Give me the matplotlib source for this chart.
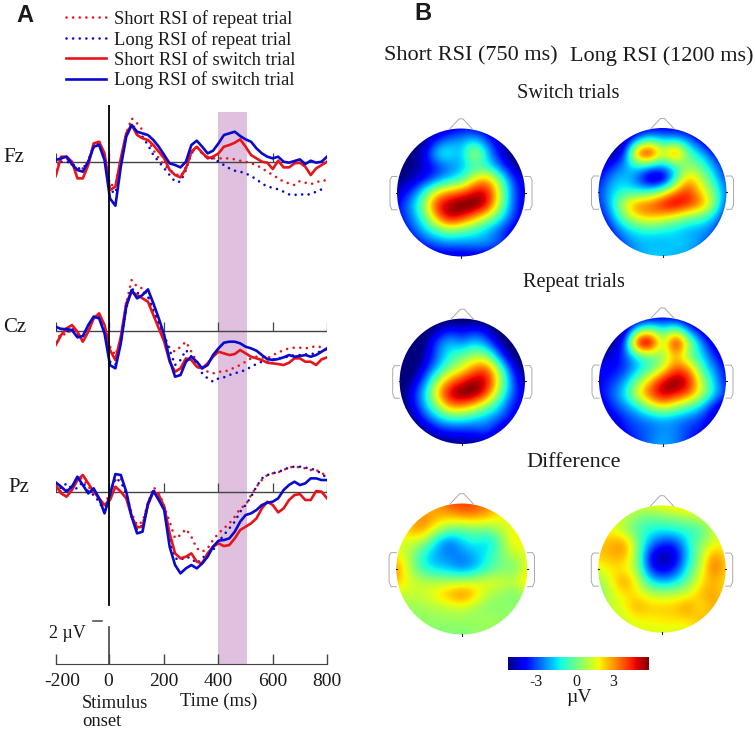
import numpy as np
import matplotlib
matplotlib.use("Agg")
import matplotlib.pyplot as plt
from matplotlib.cm import ScalarMappable
from matplotlib.colors import Normalize
from matplotlib.patches import Circle
from matplotlib.transforms import ScaledTranslation

W, H = 755, 729
SERIF = ["Liberation Serif", "DejaVu Serif"]
RED = "#E8141C"
BLUE = "#0A0ACD"
AXIS = "#444444"

# ERP readings every 20 ms, in 1/60 uV, negative plotted up
READINGS_PER_UV = 60
times = list(range(-200, 801, 20))

fz_short_repeat = [25, -10, -10, 10, 25, 20, -5, -50, -60, -20, 70, 70, 0, -85, -130, -115, -95, -65, -35, -10, 10, 25, 35, 45, 15, -25, -45, -25, -15, -10, -10, -10, -10, -7, -3, 0, 5, 10, 20, 30, 40, 50, 60, 65, 70, 58, 63, 67, 63, 55, 57]
fz_long_repeat = [-10, 0, 0, 5, 20, 20, 0, -45, -55, -15, 85, 95, 10, -80, -115, -90, -75, -50, -20, 0, 20, 40, 60, 60, 25, -25, -43, -25, -10, -10, 0, 10, 20, 27, 30, 35, 43, 53, 65, 75, 78, 83, 90, 98, 100, 97, 100, 97, 90, 83, 82]
fz_short_switch = [43, -15, -15, 0, 50, 50, 10, -55, -60, -25, 85, 75, -10, -85, -110, -80, -70, -65, -50, -30, -10, 25, 40, 47, 20, -30, -45, -27, -10, -15, -25, -45, -50, -57, -67, -45, -20, -10, 0, 3, 22, -3, 17, 17, 5, 3, 15, 40, 20, 10, 0]
fz_long_switch = [-5, -10, -15, 7, 25, 30, 0, -45, -50, -5, 110, 132, 15, -75, -110, -90, -85, -80, -65, -45, -20, 5, 10, 17, 0, -50, -63, -45, -25, -33, -55, -80, -85, -90, -77, -67, -60, -40, -25, -15, -10, -15, 0, 3, -2, -7, 7, -3, 3, 0, -15]

cz_short_repeat = [33, 8, 13, -7, 13, 28, 3, -42, -47, -12, 48, 73, 28, -82, -152, -132, -127, -107, -57, -17, 23, 53, 63, 48, 33, 63, 93, 108, 123, 128, 123, 123, 118, 110, 103, 93, 83, 78, 80, 83, 73, 66, 58, 53, 51, 51, 53, 50, 46, 50, 58]
cz_long_repeat = [-2, -7, 3, -7, 8, 18, -12, -37, -42, 3, 93, 103, 33, -67, -127, -112, -117, -102, -62, -22, 13, 58, 103, 88, 58, 78, 103, 128, 143, 153, 143, 140, 133, 128, 123, 118, 108, 100, 93, 93, 86, 83, 80, 78, 73, 73, 71, 70, 68, 60, 56]
cz_short_switch = [43, 13, -7, -17, 3, 33, 3, -37, -52, -17, 58, 88, 18, -82, -117, -107, -97, -87, -47, -7, 33, 93, 123, 113, 83, 88, 108, 113, 98, 78, 63, 68, 73, 70, 58, 68, 78, 83, 88, 96, 98, 100, 103, 96, 83, 83, 93, 93, 103, 86, 80]
cz_long_switch = [-12, -5, -5, -2, 20, 16, -17, -42, -37, 8, 103, 113, 38, -72, -122, -97, -107, -124, -82, -37, 13, 88, 138, 133, 93, 78, 93, 113, 103, 73, 53, 36, 33, 33, 38, 48, 53, 60, 73, 85, 88, 85, 80, 73, 78, 76, 73, 78, 73, 63, 53]

pz_short_repeat = [-15, 0, -5, -15, -40, -40, -15, 0, 25, 45, 0, -35, -40, 10, 65, 100, 90, 35, -13, 0, 45, 90, 140, 130, 112, 135, 170, 180, 170, 145, 125, 110, 95, 75, 50, 40, 10, -15, -35, -50, -55, -58, -65, -73, -75, -73, -70, -65, -65, -57, -45]
pz_long_repeat = [-25, -10, -25, -10, -10, -30, 0, 10, 30, 60, 5, -40, -30, 5, 75, 115, 100, 40, -5, 15, 45, 140, 200, 205, 195, 200, 215, 200, 185, 175, 150, 130, 110, 90, 60, 40, 15, -15, -40, -50, -55, -60, -65, -73, -75, -75, -72, -70, -63, -55, -40]
pz_short_switch = [-20, 5, 15, -5, -35, -50, -25, 0, 20, 40, 25, -15, 0, 20, 75, 107, 105, 40, 0, 10, 45, 125, 185, 200, 195, 185, 210, 215, 185, 165, 155, 163, 160, 140, 115, 105, 95, 80, 50, 30, 40, 62, 50, 25, 10, 7, 25, 25, -2, 0, 20]
pz_long_switch = [-28, -15, 0, -15, -45, -20, 5, -10, 20, 65, 10, -53, -50, 0, 75, 125, 120, 35, -2, 25, 55, 165, 220, 245, 230, 220, 230, 215, 195, 165, 147, 145, 140, 120, 90, 70, 65, 55, 40, 33, 30, 20, -5, -20, -30, -20, -25, -40, -40, -35, -35]

channels = ["Fz", "Cz", "Pz"]
channel_curves = [
    [fz_short_repeat, fz_long_repeat, fz_short_switch, fz_long_switch],
    [cz_short_repeat, cz_long_repeat, cz_short_switch, cz_long_switch],
    [pz_short_repeat, pz_long_repeat, pz_short_switch, pz_long_switch],
]
curve_labels = ["Short RSI of repeat trial", "Long RSI of repeat trial",
                "Short RSI of switch trial", "Long RSI of switch trial"]
xtick_values = [-200, -5, 200, 400, 600, 800]
xtick_labels = ["-200", "0", "200", "400", "600", "800"]

# scalp maps: 11x11 samples in uV, rows front to back, columns left to right
switch_short = [
    [-5, -5, -5, -4.5, -4, -3.5, -3.5, -4, -5, -5, -5],
    [-5, -5, -4.5, -3, -2, -1.8, -1.2, -2.5, -4, -5, -5],
    [-5, -4.5, -4, -1.2, -0.8, -2, 1.5, -1.5, -3.5, -4.8, -5],
    [-4.8, -4.5, -4, -3.2, -2.5, -1.8, -1, -1, -2.5, -4, -4.8],
    [-4.5, -4.2, -3.5, -2.5, -1.5, -1, 1.5, 2.5, 0, -2.8, -4],
    [-4, -3, -1, 1.5, 2.5, 3, 4, 4, 1, -2.5, -3.8],
    [-3.5, -2, 0, 3.5, 4.5, 5, 5, 4, 0.5, -2.5, -4],
    [-3.5, -2.5, -0.8, 2, 4.2, 3.5, 2, 0.5, -1, -2.8, -4],
    [-4, -3, -1.8, -0.8, 0, -0.5, -1, -1.8, -2.8, -3.8, -4.5],
    [-5, -4, -3, -2.5, -2.2, -2.2, -2, -2, -2.5, -3.5, -5],
    [-5, -5, -4.5, -4, -4, -4, -4, -4, -4.5, -5, -5],
]
switch_long = [
    [-5, -5, -5, -4.5, -4, -3.8, -3.8, -4, -5, -5, -5],
    [-5, -5, -4.5, -2, -0.5, -1.5, -1.5, -2, -3.5, -5, -5],
    [-5, -4.5, -3.5, 3.5, 5, 1, 4, -0.5, -1.5, -3.2, -4],
    [-4, -3.2, -2, -1, -1.5, -2, -1, 0.2, -0.3, -2, -3.5],
    [-3.5, -2, -1.5, -2.5, -5, -5, -1.2, 2.2, 0.8, -1, -3],
    [-3, -1.5, -1, -1.2, -0.8, 0.5, 2.5, 3.5, 1.5, 0, -2.5],
    [-3.2, -1.5, 1.2, 2.8, 3, 4, 4.5, 3.5, 2.8, 0.5, -3],
    [-3.8, -2.2, 0, 1.5, 2, 1.5, 0.8, 0, -0.5, -1.5, -3.5],
    [-4.5, -3, -1.8, -1.2, -1, -1.2, -1.5, -2, -2, -2.5, -4],
    [-5, -3.8, -2.5, -1.8, -1.8, -1.8, -1.5, -1.5, -2, -3, -5],
    [-5, -5, -3, -2, -1.5, -1.5, -1.8, -2, -3, -5, -5],
]
repeat_short = [
    [-5, -5, -5, -5, -5, -5, -5, -5, -5, -5, -5],
    [-5, -5, -5, -4, -3, -3.5, -3, -3.5, -5, -5, -5],
    [-5, -5, -4.5, -2.5, -1.5, -2.3, -1.3, -2.2, -4, -5, -5],
    [-5, -5, -4.2, -2.5, -1, -0.2, 0.5, 0.3, -2.5, -4.5, -5],
    [-5, -5, -3.5, -1.8, 0, 1, 2.5, 3.2, 0, -3.2, -4.8],
    [-5, -4.2, -2.5, 0.5, 2.5, 3.5, 4.5, 4, 1, -2.5, -4.2],
    [-5, -3.5, -1.5, 1.8, 4.2, 5, 4.8, 3.2, 0, -2.5, -3.8],
    [-4.8, -3.8, -1.8, 0.2, 2.5, 2.5, 1.5, 0, -1.5, -3.2, -4],
    [-5, -4.5, -3, -1.8, -1, -1, -1.5, -2, -2.5, -3.5, -4.5],
    [-5, -5, -4.5, -3.5, -3.2, -3.2, -3, -2.5, -4, -5, -5],
    [-5, -5, -5, -4.8, -4.5, -4.5, -4.5, -4.5, -5, -5, -5],
]
repeat_long = [
    [-5, -5, -5, -4.5, -4, -3.8, -4, -4.5, -5, -5, -5],
    [-5, -5, -4.5, -0.5, 0.5, -1, 0.5, -2.2, -3.8, -5, -5],
    [-5, -4.5, -3, 5, 5.5, 0, 5, 0.8, -2, -4, -5],
    [-4.2, -3.8, -2.8, -1, -0.3, 0, 2, -0.2, -1.3, -3, -4.2],
    [-3.5, -3.5, -3, -1.8, -0.8, 0.8, 3, 2.5, -0.5, -2.2, -3.5],
    [-3.5, -3, -2, 0, 2, 4, 4.8, 4, 0.8, -1.5, -3.5],
    [-3.5, -2.5, -1.2, 1.5, 3.2, 4.5, 3.8, 3, 1, -1.2, -3],
    [-4, -3, -2.2, -1.2, 0.5, 1.5, 0.5, -0.5, -1.5, -3.5, -4.5],
    [-4.5, -3.8, -3, -2.5, -2.2, -2, -2.2, -2.5, -3, -4, -4.2],
    [-5, -4.5, -3.2, -2.8, -2.5, -2, -2.2, -3, -3.2, -4, -5],
    [-5, -5, -4, -3, -2.2, -1.8, -2.2, -3, -4, -5, -5],
]
diff_short = [
    [1.5, 1.5, 1.5, 2, 3, 3.2, 3, 2.5, 1.5, 1.5, 1.5],
    [1.5, 1.8, 2.5, 2.2, 2, 2.5, 2.5, 2, 1.3, 1.2, 1.2],
    [1.5, 2, 2.5, 1, 0, -0.3, 0, 0, 0.8, 1.3, 1.2],
    [0.8, 1, 0.5, -1.5, -2.8, -1.5, -1, -1.8, 0, 1.8, 1],
    [1.5, 0.5, -1.2, -2, -2.2, -2.3, -1.8, -1, 0, 0.8, 1],
    [2.5, 0.6, -1, -1.5, -1.8, -2.5, -1.8, -0.8, 0, -0.3, 1.5],
    [2, 1, 0.8, 0.6, 0.6, 0.8, 1, 1.3, 1, 0.8, 2],
    [0.8, 0.8, 0.8, 1.5, 2.2, 2.8, 1.8, 0.5, 0.2, -0.2, 0.5],
    [0.2, 0.3, 0.4, 0.5, 0.6, 0.8, 0.3, 0, 0.2, 0.3, 0.3],
    [0.2, 0.2, 0.2, 0.3, 0.3, 0.3, 0.3, 0.6, 0.3, 0.2, 0.2],
    [0, 0, 0, 0, 0, 0, 0.2, 0.2, 0, 0, 0],
]
diff_long = [
    [1.5, 1.5, 1.2, 1.2, 1.3, 1.5, 1.8, 2, 1.5, 1.3, 1.3],
    [1.3, 1.2, 0.8, 0, -0.3, 0, 0.2, 0.4, 1, 1.2, 1.3],
    [1.3, 1.3, 0.4, -0.5, -1, -1.2, -1, -0.8, -0.8, 0.8, 1.3],
    [1.8, 2, 2.5, 0.2, -2, -3, -3, -1.2, 0.2, 1, 1.2],
    [1.8, 2, 2.2, 0.3, -3.5, -4.5, -4, -1.5, 0.5, 2.5, 1.5],
    [1, 1.5, 1.3, 0.5, -3.2, -4, -3.2, -1, 0.8, 3, 1.5],
    [0.2, 1.2, 2.5, 1.2, -1.2, -2, -1.5, -0.2, 1.5, 2, 1.5],
    [-0.2, 0.8, 1.5, 1.5, 0.8, 0.7, 0.8, 1, 2, 2.2, 1.5],
    [0.5, 0.8, 1.2, 2.2, 1.8, 1.8, 1.8, 2.5, 1.2, 2.2, 1.8],
    [0.8, 0.8, 0.8, 1.3, 1.3, 1.5, 1.5, 1.5, 2, 2, 1.8],
    [0.8, 0.8, 1, 1, 1, 1, 1, 1, 1.5, 1.5, 1.5],
]
map_limit = 5
colorbar_ticks = [-3, 0, 3]


def pixel_box(left, top, right, bottom):
    return [left / W, 1 - bottom / H, (right - left) / W, (bottom - top) / H]


def label(x, y, text, size=13, ha="left", **kw):
    kw.setdefault("family", SERIF)
    fig.text(x / W, 1 - y / H, text, fontsize=size, ha=ha, va="center", color="#1a1a1a", **kw)


def shift_label(tick_label, px):
    tick_label.set_transform(tick_label.get_transform() + ScaledTranslation(px / 100, 0, fig.dpi_scale_trans))


def topomap(cx, cy, r, grid):
    span = 1.3
    ax = fig.add_axes(pixel_box(cx - span * r, cy - span * r, cx + span * r, cy + span * r))
    ax.set_xlim(-span, span)
    ax.set_ylim(-span, span)
    ax.axis("off")
    # small samples blur under bicubic, so the peaks get a slightly tighter colour range
    limit = 0.9 * map_limit
    im = ax.imshow(grid, extent=[-1.1, 1.1, -1.1, 1.1], origin="upper", cmap="jet",
                   vmin=-limit, vmax=limit, interpolation="bicubic", aspect="equal")
    im.set_clip_path(Circle((0, 0), 1, transform=ax.transData))
    ax.set_xlim(-span, span)
    ax.set_ylim(-span, span)
    # nose and ears
    ax.plot([-0.18, -0.03, 0.03, 0.18], [0.99, 1.15, 1.15, 0.99], color="#aaaaaa", lw=0.7)
    for side in (-1, 1):
        ax.plot([side * 1.0, side * 1.08, side * 1.11, side * 1.11, side * 1.08, side * 1.0],
                [0.25, 0.25, 0.2, -0.2, -0.27, -0.27], color="#aaaaaa", lw=0.7)
        ax.plot([side * 0.99, side * 1.01], [0, 0], color="#222222", lw=0.8)
    ax.plot([0, 0], [-1.02, -0.99], color="#222222", lw=0.8)


fig = plt.figure(figsize=(W / 100, H / 100), dpi=100)

# waveform panel, 20 px per uV, Fz baseline at y = 0
baselines = [0, 8.45, 16.5]
axis_y = 25.1
ax = fig.add_axes(pixel_box(55.7, 105, 327, 663.7))
ax.set_xlim(-200, 800)
ax.set_ylim(axis_y, -2.835)
for s in ("left", "right", "top"):
    ax.spines[s].set_visible(False)
ax.spines["bottom"].set_color(AXIS)
ax.patch.set_alpha(0)
ax.set_yticks([])
ax.set_xticks(xtick_values)
ax.set_xticklabels(xtick_labels, family=SERIF, fontsize=14, color="#1a1a1a")
ax.tick_params(axis="x", direction="in", length=7, width=1, color=AXIS, pad=7)
ax.spines["bottom"].set_zorder(1)
shift_label(ax.get_xticklabels()[0], 7)

ax.fill_betweenx([-2.47, axis_y], 400, 505, color="#DFC0DF", lw=0, zorder=0)

handles = []
for base, curves in zip(baselines, channel_curves):
    ax.plot([-200, 800], [base, base], color=AXIS, lw=1, zorder=1)
    ax.vlines(xtick_values, base - 0.45, base, color=AXIS, lw=0.9, zorder=1)
    lines = []
    for i, values in enumerate(curves):
        y = base + np.array(values) / READINGS_PER_UV
        color = RED if i % 2 == 0 else BLUE
        if i < 2:
            line, = ax.plot(times, y, color=color, lw=1.9, ls=(0, (0.01, 2.5)),
                            dash_capstyle="round", zorder=2 + i, label=curve_labels[i])
        else:
            line, = ax.plot(times, y, color=color, lw=1.9, solid_joinstyle="round",
                            zorder=2 + i, label=curve_labels[i])
        lines.append(line)
    handles = lines

ax.plot([-5, -5], [-2.835, 22.15], color="black", lw=1.3, zorder=7)
ax.plot([-5, -5], [23.25, axis_y], color=AXIS, lw=1.2, zorder=7)
ax.plot([-62, -28], [22.95, 22.95], color=AXIS, lw=1.1)

fig.legend(handles=handles, loc="upper left", bbox_to_anchor=(66 / W, 1 - 10 / H), frameon=False,
           prop={"family": SERIF, "size": 13.3}, labelspacing=0.16, handlelength=2.17,
           handletextpad=0.43, borderpad=0, borderaxespad=0, labelcolor="#1a1a1a")

label(16, 15, "A", size=17, family="Liberation Sans", fontweight="bold")
label(414, 14, "B", size=17, family="Liberation Sans", fontweight="bold")
for name, x, y in zip(channels, [3, 3, 8], [157, 328, 487]):
    label(x, y, name, size=15)
label(49, 633, "2 \u00b5V", size=13)
label(82, 703, "Stimulus", size=13.4)
label(82, 721, "onset", size=13.4)
label(180, 701, "Time (ms)", size=13.4)

label(384.5, 56, "Short RSI (750 ms)", size=16)
label(570, 56, "Long RSI (1200 ms)", size=16)
label(568, 93, "Switch trials", size=14.7, ha="center")
label(574, 282, "Repeat trials", size=14.6, ha="center")
label(574, 463, "Difference", size=15.9, ha="center")

topomap(461, 192.5, 64, switch_short)
topomap(662.5, 192, 64, switch_long)
topomap(462.3, 381.3, 62.7, repeat_short)
topomap(662.5, 381, 63.5, repeat_long)
topomap(461.8, 569, 65.5, diff_short)
topomap(662, 569, 63.7, diff_long)

cax = fig.add_axes(pixel_box(508, 656.7, 648.7, 670))
cb = fig.colorbar(ScalarMappable(Normalize(-map_limit, map_limit), cmap="jet"), cax=cax,
                  orientation="horizontal")
cb.outline.set_visible(False)
cb.set_ticks(colorbar_ticks)
cb.set_ticklabels(["-3", "0", "3"], family=SERIF, fontsize=11.5, color="#1a1a1a")
cax.tick_params(length=0, pad=3)
shift_label(cax.get_xticklabels()[1], -1.5)
shift_label(cax.get_xticklabels()[2], -7)
label(579, 698, "\u00b5V", size=14, ha="center")

fig.savefig("out.png", dpi=100)
